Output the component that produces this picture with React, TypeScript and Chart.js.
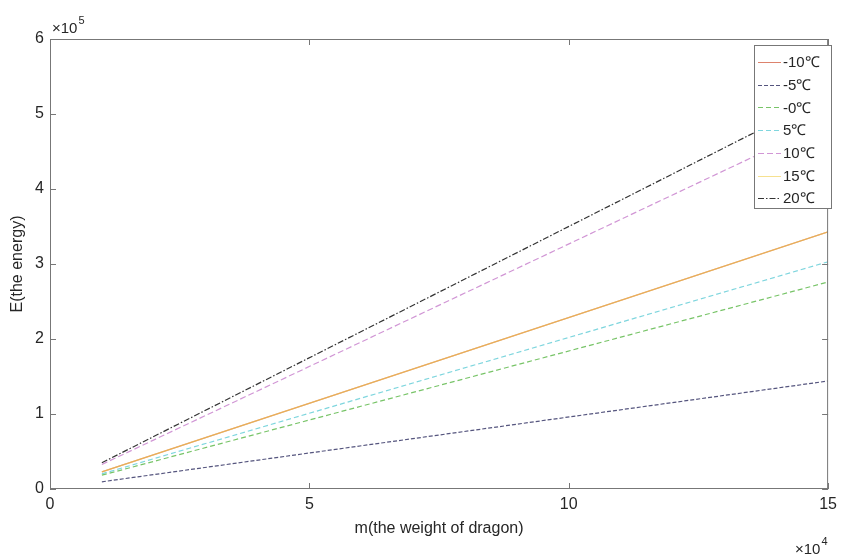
import React, { useEffect, useRef } from "react";
import { Chart, registerables } from "chart.js";

Chart.register(...registerables);

// Data
const masses = [1, 15]; // ×10^4
const seriesLabels = ["-10℃", "-5℃", "-0℃", "5℃", "10℃", "15℃", "20℃"];
const eMinus10 = [0.229, 3.43]; // ×10^5
const eMinus5 = [0.096, 1.44];
const eMinus0 = [0.184, 2.76];
const e5 = [0.202, 3.03];
const e10 = [0.327, 4.9];
const e15 = [0.229, 3.43];
const e20 = [0.35, 5.25];
const xTicks = [0, 5, 10, 15];
const yTicks = [0, 1, 2, 3, 4, 5, 6];

const seriesValues = [eMinus10, eMinus5, eMinus0, e5, e10, e15, e20];
const seriesColors = [
  "rgba(210,90,60,0.75)",
  "#55557e",
  "#78c468",
  "#7fd6de",
  "#d196d5",
  "rgba(240,205,70,0.6)",
  "#333333",
];
const seriesOrder = [1, 0, 0, 0, 0, -1, 0];
const seriesDash: number[][] = [[], [4, 2], [5, 3], [5, 3], [6, 3], [], [6, 2, 1.5, 2]];

const TEXT = "#262626";
const AXIS = "#777777";
const FONT = "'Liberation Sans', Arial, sans-serif";

const decorPlugin = {
  id: "decor",
  afterDraw(chart: any) {
    const { ctx, chartArea } = chart;
    const { left, right, top, bottom } = chartArea;
    const xs = chart.scales.x;
    const ys = chart.scales.y;
    ctx.save();
    ctx.strokeStyle = AXIS;
    ctx.lineWidth = 1;
    ctx.setLineDash([]);
    ctx.strokeRect(left + 0.5, top + 0.5, right - left - 1, bottom - top - 1);
    const tl = 6;
    ctx.beginPath();
    for (const v of xTicks) {
      const px = Math.round(xs.getPixelForValue(v)) + 0.5;
      ctx.moveTo(px, bottom);
      ctx.lineTo(px, bottom - tl);
      ctx.moveTo(px, top);
      ctx.lineTo(px, top + tl);
    }
    for (const v of yTicks) {
      const py = Math.round(ys.getPixelForValue(v)) + 0.5;
      ctx.moveTo(left, py);
      ctx.lineTo(left + tl, py);
      ctx.moveTo(right, py);
      ctx.lineTo(right - tl, py);
    }
    ctx.stroke();

    ctx.fillStyle = TEXT;
    ctx.textBaseline = "alphabetic";
    ctx.textAlign = "left";
    ctx.font = `15px ${FONT}`;
    ctx.fillText("×10", 52, 33);
    const w1 = ctx.measureText("×10").width;
    ctx.font = `11px ${FONT}`;
    ctx.fillText("5", 52 + w1 + 1, 24);

    ctx.font = `15px ${FONT}`;
    ctx.fillText("×10", 795, 554);
    const w2 = ctx.measureText("×10").width;
    ctx.font = `11px ${FONT}`;
    ctx.fillText("4", 795 + w2 + 1, 545);

    // legend
    const lx = 754, ly = 45, lw = 77, lh = 163;
    ctx.fillStyle = "#ffffff";
    ctx.fillRect(lx, ly, lw, lh);
    ctx.strokeStyle = AXIS;
    ctx.strokeRect(lx + 0.5, ly + 0.5, lw, lh);
    ctx.font = `15px ${FONT}`;
    ctx.textBaseline = "middle";
    seriesLabels.forEach((lab, i) => {
      const y = 62 + i * 22.7;
      ctx.strokeStyle = seriesColors[i];
      ctx.setLineDash(seriesDash[i]);
      ctx.beginPath();
      ctx.moveTo(758, Math.round(y) + 0.5);
      ctx.lineTo(781, Math.round(y) + 0.5);
      ctx.stroke();
      ctx.setLineDash([]);
      ctx.fillStyle = TEXT;
      ctx.fillText(lab, 783, y + 1);
    });
    ctx.restore();
  },
};

export default function App() {
  const ref = useRef<HTMLCanvasElement | null>(null);
  useEffect(() => {
    if (!ref.current) return;
    const chart = new Chart(ref.current, {
      type: "line",
      data: {
        datasets: seriesLabels.map((lab, i) => ({
          label: lab,
          data: masses.map((m, j) => ({ x: m, y: seriesValues[i][j] })),
          borderColor: seriesColors[i],
          borderDash: seriesDash[i],
          borderWidth: 1.2,
          pointRadius: 0,
          fill: false,
          tension: 0,
          order: seriesOrder[i],
        })),
      },
      options: {
        responsive: false,
        animation: false,
        layout: { padding: { left: 0, right: 11, top: 39, bottom: 0 } },
        plugins: { legend: { display: false }, tooltip: { enabled: false } },
        scales: {
          x: {
            type: "linear",
            min: 0,
            max: 15,
            afterBuildTicks: (s: any) => {
              s.ticks = xTicks.map((v) => ({ value: v }));
            },
            afterFit: (s: any) => {
              s.height = 70;
            },
            grid: { display: false, drawTicks: false },
            border: { display: false },
            ticks: { color: TEXT, font: { family: FONT, size: 16 }, padding: 6, maxRotation: 0 },
            title: {
              display: true,
              text: "m(the weight of dragon)",
              color: TEXT,
              font: { family: FONT, size: 16 },
              padding: { top: 0, bottom: 21 },
            },
          },
          y: {
            type: "linear",
            min: 0,
            max: 6,
            afterBuildTicks: (s: any) => {
              s.ticks = yTicks.map((v) => ({ value: v }));
            },
            afterFit: (s: any) => {
              s.width = 50;
            },
            grid: { display: false, drawTicks: false },
            border: { display: false },
            ticks: { color: TEXT, font: { family: FONT, size: 16 }, padding: 6 },
            title: {
              display: true,
              text: "E(the energy)",
              color: TEXT,
              font: { family: FONT, size: 16 },
              padding: { top: 8, bottom: 0 },
            },
          },
        },
      },
      plugins: [decorPlugin],
    });
    return () => chart.destroy();
  }, []);
  return (
    <div style={{ position: "fixed", left: 0, top: 0, width: 843, height: 559, background: "#fff" }}>
      <canvas ref={ref} width={843} height={559} style={{ width: 843, height: 559, display: "block" }} />
    </div>
  );
}
